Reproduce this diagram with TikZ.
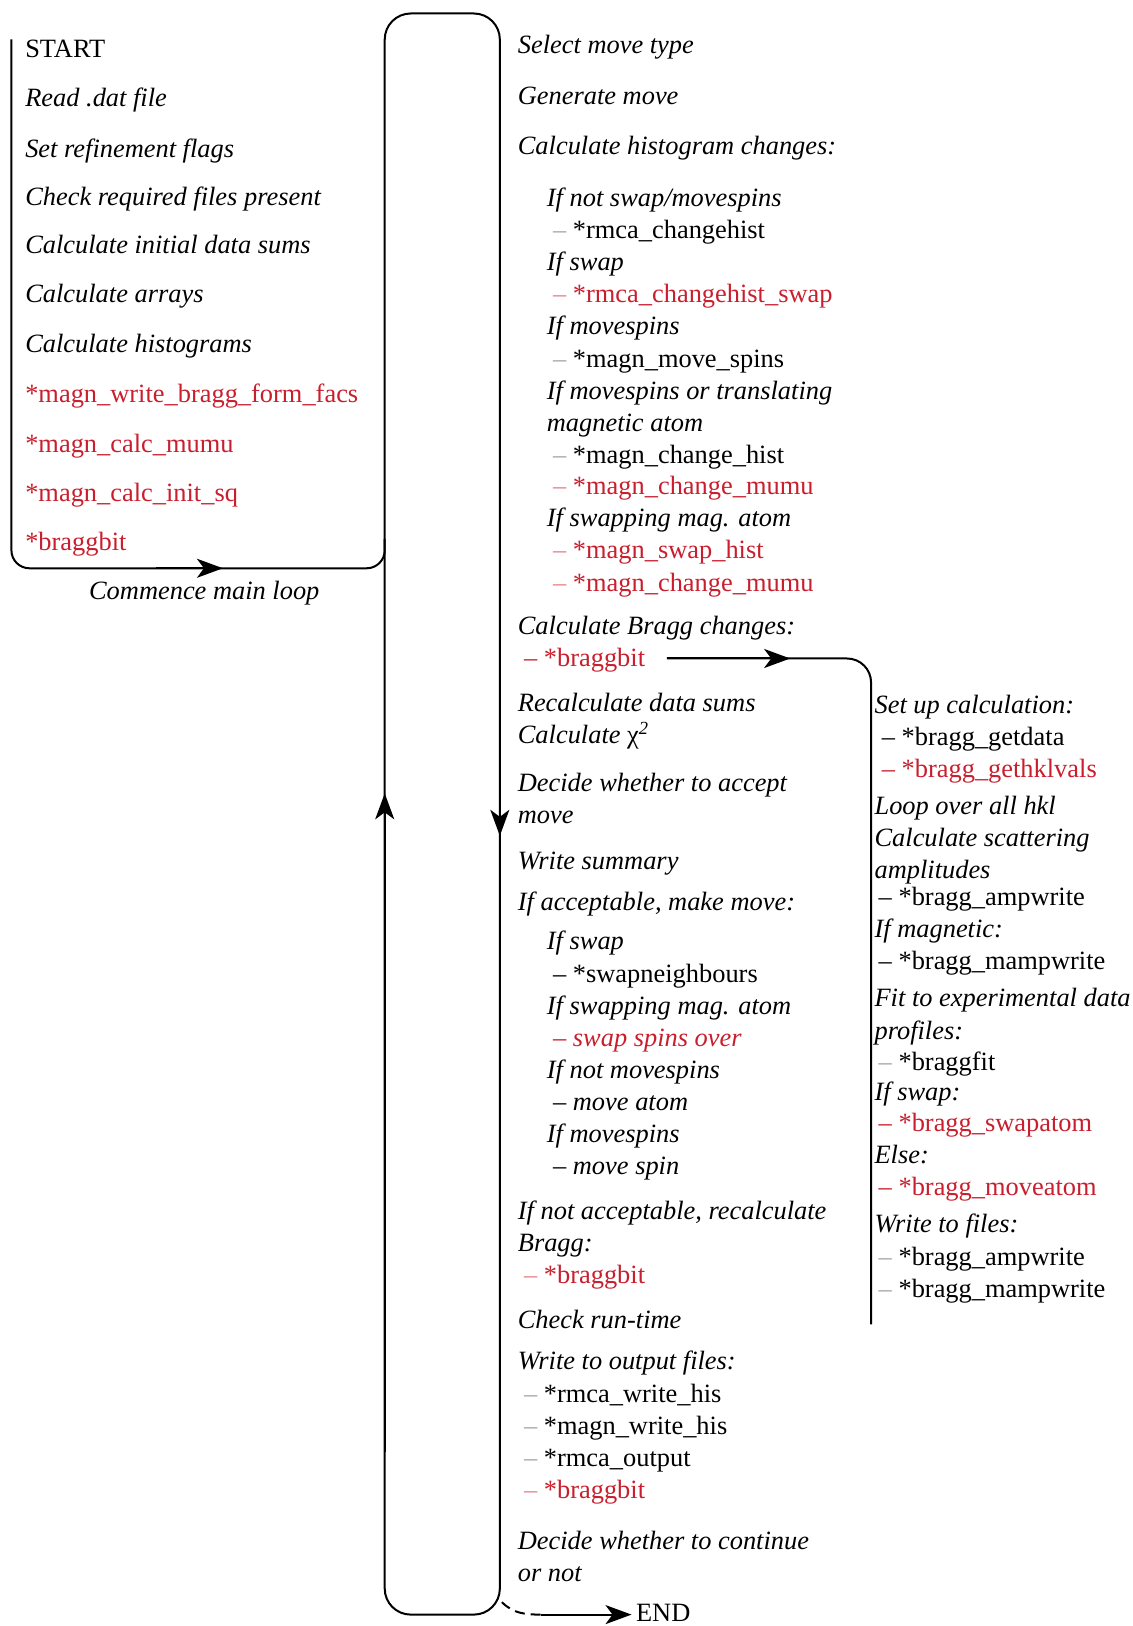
\documentclass[tikz,border=0pt]{standalone}
\usepackage{fontspec}
\setmainfont{Liberation Serif}
\usepackage{xcolor}
\usepackage{tikz}
\usetikzlibrary{arrows.meta}

\definecolor{fred}{RGB}{200,30,45}
\newcommand{\greydash}{{\color{gray!70}\textendash}\ }
\newcommand{\pinkdash}{{\color{fred!55}\textendash}\ }
\newcommand{\reddash}{{\color{fred}\textendash}\ }
\newcommand{\blackdash}{\textendash\ }

\begin{document}
\begin{tikzpicture}[
    x=0.5183pt, y=-0.5183pt,
    font=\fontsize{13.2}{15}\selectfont,
    txt/.style={anchor=base west, inner sep=0pt, font=\fontsize{13.2}{15}\selectfont\itshape},
    cmd/.style={anchor=base west, inner sep=0pt},
    rcmd/.style={anchor=base west, inner sep=0pt, text=fred},
    line/.style={line width=1pt},
    arr/.style={line width=1pt, -{Stealth[length=13pt, width=9.5pt, inset=3.5pt]}},
  ]
    \useasboundingbox (0,0) rectangle (1092,1568);

    % Set-up column
    \node[cmd] (start) at (24,55) {START};
    \node[txt] (l1) at (24,103) {Read .dat file};
    \node[txt] (l2) at (24,152) {Set refinement flags};
    \node[txt] (l3) at (24,198) {Check required files present};
    \node[txt] (l4) at (24,244) {Calculate initial data sums};
    \node[txt] (l5) at (24,292) {Calculate arrays};
    \node[txt] (l6) at (24,340) {Calculate histograms};
    \node[rcmd] (l7) at (24,388) {*magn\_write\_bragg\_form\_facs};
    \node[rcmd] (l8) at (24,436) {*magn\_calc\_mumu};
    \node[rcmd] (l9) at (24,484) {*magn\_calc\_init\_sq};
    \node[rcmd] (l10) at (24,531) {*braggbit};
    \node[txt, anchor=base] (commence) at (197,578) {Commence main loop};

    \coordinate (lTop) at (11,38);
    \coordinate (lBot) at (11,548);
    \coordinate (lJoin) at (371,548);
    \coordinate (lUp) at (371,520);
    \coordinate (lArrA) at (150,548);
    \coordinate (lArrB) at (215,548);
    \draw[line, rounded corners=9pt] (lTop) -- (lBot) -- (lJoin) -- (lUp);
    \draw[arr] (lArrA) -- (lArrB);

    % Main loop
    \coordinate (loopNW) at (371,13);
    \coordinate (loopSE) at (482,1557);
    \coordinate (upFrom) at (371,1400);
    \coordinate (upTip) at (371,765);
    \coordinate (downFrom) at (482,700);
    \coordinate (downTip) at (482,806);
    \draw[line, rounded corners=13pt] (loopNW) rectangle (loopSE);
    \draw[arr] (upFrom) -- (upTip);
    \draw[arr] (downFrom) -- (downTip);

    % Loop body
    \node[txt] (m1) at (499,52) {Select move type};
    \node[txt] (m2) at (499,101) {Generate move};
    \node[txt] (m3) at (499,149) {Calculate histogram changes:};
    \node[txt] (m4) at (527,199) {If not swap/movespins};
    \node[cmd] (m5) at (533,230) {\greydash*rmca\_changehist};
    \node[txt] (m6) at (527,261) {If swap};
    \node[rcmd] (m7) at (533,292) {\pinkdash*rmca\_changehist\_swap};
    \node[txt] (m8) at (527,323) {If movespins};
    \node[cmd] (m9) at (533,354) {\greydash*magn\_move\_spins};
    \node[txt] (m10) at (527,385) {If movespins or translating};
    \node[txt] (m11) at (527,416) {magnetic atom};
    \node[cmd] (m12) at (533,447) {\greydash*magn\_change\_hist};
    \node[rcmd] (m13) at (533,477) {\pinkdash*magn\_change\_mumu};
    \node[txt] (m14) at (527,508) {If swapping mag. atom};
    \node[rcmd] (m15) at (533,539) {\pinkdash*magn\_swap\_hist};
    \node[rcmd] (m16) at (533,570) {\pinkdash*magn\_change\_mumu};
    \node[txt] (m17) at (499,612) {Calculate Bragg changes:};
    \node[rcmd] (m18) at (505,643) {\reddash*braggbit};
    \node[txt] (m19) at (499,686) {Recalculate data sums};
    \node[txt] (m20) at (499,717) {Calculate {\upshape χ}\textsuperscript{2}};
    \node[txt] (m21) at (499,763) {Decide whether to accept};
    \node[txt] (m22) at (499,794) {move};
    \node[txt] (m23) at (499,838) {Write summary};
    \node[txt] (m24) at (499,878) {If acceptable, make move:};
    \node[txt] (m25) at (527,916) {If swap};
    \node[cmd] (m26) at (533,947) {\blackdash*swapneighbours};
    \node[txt] (m27) at (527,978) {If swapping mag. atom};
    \node[txt, text=fred] (m28) at (533,1009) {\textendash\ swap spins over};
    \node[txt] (m29) at (527,1040) {If not movespins};
    \node[txt] (m30) at (533,1071) {\textendash\ move atom};
    \node[txt] (m31) at (527,1102) {If movespins};
    \node[txt] (m32) at (533,1133) {\textendash\ move spin};
    \node[txt] (m33) at (499,1176) {If not acceptable, recalculate};
    \node[txt] (m34) at (499,1207) {Bragg:};
    \node[rcmd] (m35) at (505,1238) {\pinkdash*braggbit};
    \node[txt] (m36) at (499,1281) {Check run-time};
    \node[txt] (m37) at (499,1321) {Write to output files:};
    \node[cmd] (m38) at (505,1352) {\greydash*rmca\_write\_his};
    \node[cmd] (m39) at (505,1383) {\greydash*magn\_write\_his};
    \node[cmd] (m40) at (505,1414) {\greydash*rmca\_output};
    \node[rcmd] (m41) at (505,1445) {\pinkdash*braggbit};
    \node[txt] (m42) at (499,1494) {Decide whether to continue};
    \node[txt] (m43) at (499,1525) {or not};

    % End of run
    \node[cmd] (endnode) at (613,1564) {END};
    \coordinate (exitA) at (484,1545);
    \coordinate (exitB) at (522,1557);
    \coordinate (exitC) at (609,1557);
    \draw[line, dash pattern=on 5pt off 3pt] (exitA) to[out=-45, in=180] (exitB);
    \draw[arr] (exitB) -- (exitC);

    % Braggbit branch
    \coordinate (bStart) at (643,635);
    \coordinate (bTip) at (762,635);
    \coordinate (bCorner) at (840,635);
    \coordinate (bEnd) at (840,1277);
    \draw[line, rounded corners=12pt] (bStart) -- (bCorner) -- (bEnd);
    \draw[arr] (bStart) -- (bTip);

    \node[txt] (r1) at (843,688) {Set up calculation:};
    \node[cmd] (r2) at (850,719) {\blackdash*bragg\_getdata};
    \node[rcmd] (r3) at (850,750) {\reddash*bragg\_gethklvals};
    \node[txt] (r4) at (843,785) {Loop over all hkl};
    \node[txt] (r5) at (843,816) {Calculate scattering};
    \node[txt] (r6) at (843,847) {amplitudes};
    \node[cmd] (r7) at (847,873) {\blackdash*bragg\_ampwrite};
    \node[txt] (r8) at (843,904) {If magnetic:};
    \node[cmd] (r9) at (847,935) {\blackdash*bragg\_mampwrite};
    \node[txt] (r10) at (843,971) {Fit to experimental data};
    \node[txt] (r11) at (843,1002) {profiles:};
    \node[cmd] (r12) at (847,1032) {\greydash*braggfit};
    \node[txt] (r13) at (843,1061) {If swap:};
    \node[rcmd] (r14) at (847,1091) {\reddash*bragg\_swapatom};
    \node[txt] (r15) at (843,1122) {Else:};
    \node[rcmd] (r16) at (847,1153) {\reddash*bragg\_moveatom};
    \node[txt] (r17) at (843,1189) {Write to files:};
    \node[cmd] (r18) at (847,1220) {\greydash*bragg\_ampwrite};
    \node[cmd] (r19) at (847,1251) {\greydash*bragg\_mampwrite};
  \end{tikzpicture}
\end{document}
